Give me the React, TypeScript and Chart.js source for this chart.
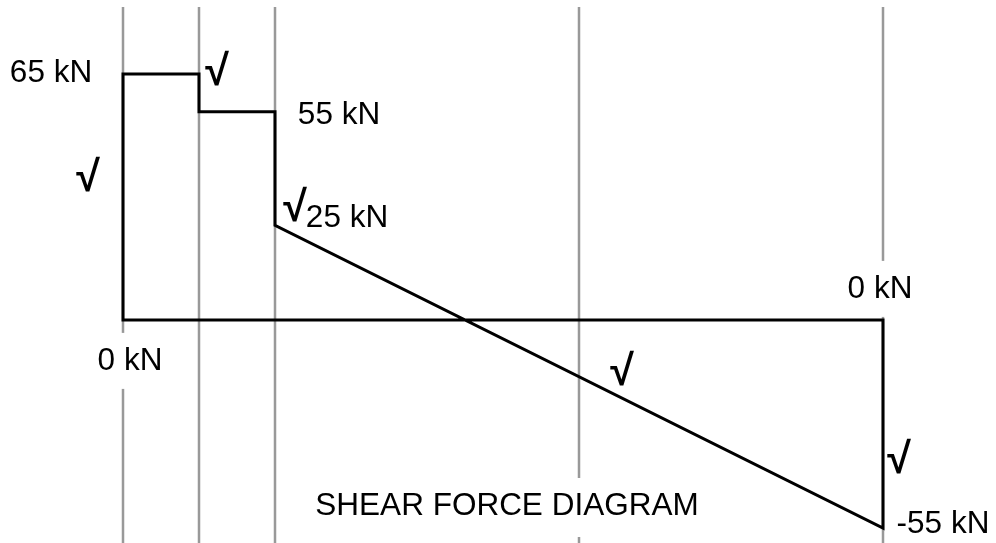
import React, { useEffect, useRef } from "react";
import { Chart, registerables } from "chart.js";

Chart.register(...registerables);

// Beam support / load positions (m) – gridlines
const gridPositions = [0, 1, 2, 6, 10];
// Shear force outline (m, kN)
const shearX = [0, 0, 1, 1, 2, 2, 10, 10, 0];
const shearV = [0, 65, 65, 55, 55, 25, -55, 0, 0];
// Value labels anchored at points of the diagram
const labelText = ["65 kN", "55 kN", "25 kN", "0 kN", "0 kN", "-55 kN"];
const labelX = [0, 2, 2, 10, 0, 10];
const labelV = [65, 55, 25, 0, 0, -55];
// Check marks anchored at points
const checkX = [1, 0, 2, 6, 10];
const checkV = [65, 30, 25, -15, -40];
const titleText = "SHEAR FORCE DIAGRAM";

// styling (pixel offsets)
const labelOffsets: [number, number][] = [
  [-72, -1],
  [64, 3],
  [72, -7],
  [-3, -31],
  [7, 41],
  [60, -4],
];
const labelBg = [false, false, false, true, true, false];
const checkOffsets: [number, number][] = [
  [18, -1],
  [-35, -27],
  [20, -16],
  [43, -4],
  [16, -10],
];

const FONT = "31.5px 'Liberation Sans', Arial, sans-serif";
const BOLD = "bold 43px 'Liberation Sans', Arial, sans-serif";

const annotPlugin = {
  id: "annot",
  beforeDatasetsDraw(chart: any) {
    const { ctx, scales } = chart;
    const xs = scales.x;
    const ys = scales.y;
    ctx.save();
    ctx.strokeStyle = "#999999";
    ctx.lineWidth = 2.5;
    gridPositions.forEach((p) => {
      const px = Math.round(xs.getPixelForValue(p));
      ctx.beginPath();
      ctx.moveTo(px, 7);
      ctx.lineTo(px, chart.height);
      ctx.stroke();
    });
    // white backgrounds behind labels crossing gridlines
    ctx.fillStyle = "#ffffff";
    ctx.font = FONT;
    labelText.forEach((t, i) => {
      if (!labelBg[i]) return;
      const cx = xs.getPixelForValue(labelX[i]) + labelOffsets[i][0];
      const cy = ys.getPixelForValue(labelV[i]) + labelOffsets[i][1];
      const w = ctx.measureText(t).width;
      ctx.fillRect(cx - w / 2 - 6, cy - 28, w + 12, 56);
    });
    const tw = ctx.measureText(titleText).width;
    ctx.fillRect(507 - tw / 2 - 6, 507 - 29, tw + 12, 59);
    ctx.restore();
  },
  afterDatasetsDraw(chart: any) {
    const { ctx, scales } = chart;
    const xs = scales.x;
    const ys = scales.y;
    ctx.save();
    ctx.fillStyle = "#000000";
    ctx.textAlign = "center";
    ctx.textBaseline = "middle";
    ctx.font = FONT;
    labelText.forEach((t, i) => {
      const cx = xs.getPixelForValue(labelX[i]) + labelOffsets[i][0];
      const cy = ys.getPixelForValue(labelV[i]) + labelOffsets[i][1];
      ctx.fillText(t, cx, cy);
    });
    ctx.fillText(titleText, 507, 506);
    ctx.font = BOLD;
    checkX.forEach((x, i) => {
      const cx = xs.getPixelForValue(x) + checkOffsets[i][0];
      const cy = ys.getPixelForValue(checkV[i]) + checkOffsets[i][1];
      ctx.fillText("\u221A", cx, cy);
    });
    ctx.restore();
  },
};

export default function App() {
  const ref = useRef<HTMLCanvasElement>(null);
  useEffect(() => {
    if (!ref.current) return;
    const chart = new Chart(ref.current, {
      type: "line",
      data: {
        datasets: [
          {
            data: shearX.map((x, i) => ({ x, y: shearV[i] })),
            borderColor: "#000000",
            borderWidth: 3,
            pointRadius: 0,
            tension: 0,
            fill: false,
            borderJoinStyle: "miter",
            borderCapStyle: "square",
          },
        ],
      },
      options: {
        animation: false,
        responsive: false,
        layout: { padding: 0 },
        plugins: { legend: { display: false }, tooltip: { enabled: false } },
        events: [],
        scales: {
          x: { type: "linear", display: false, min: -123 / 76, max: (996 - 123) / 76 },
          y: { type: "linear", display: false, min: -(543 - 319.9) / 3.7833, max: 319.9 / 3.7833 },
        },
      },
      plugins: [annotPlugin],
    });
    return () => chart.destroy();
  }, []);
  return (
    <div style={{ position: "fixed", left: 0, top: 0, width: 996, height: 543, background: "#fff" }}>
      <canvas ref={ref} width={996} height={543} />
    </div>
  );
}
